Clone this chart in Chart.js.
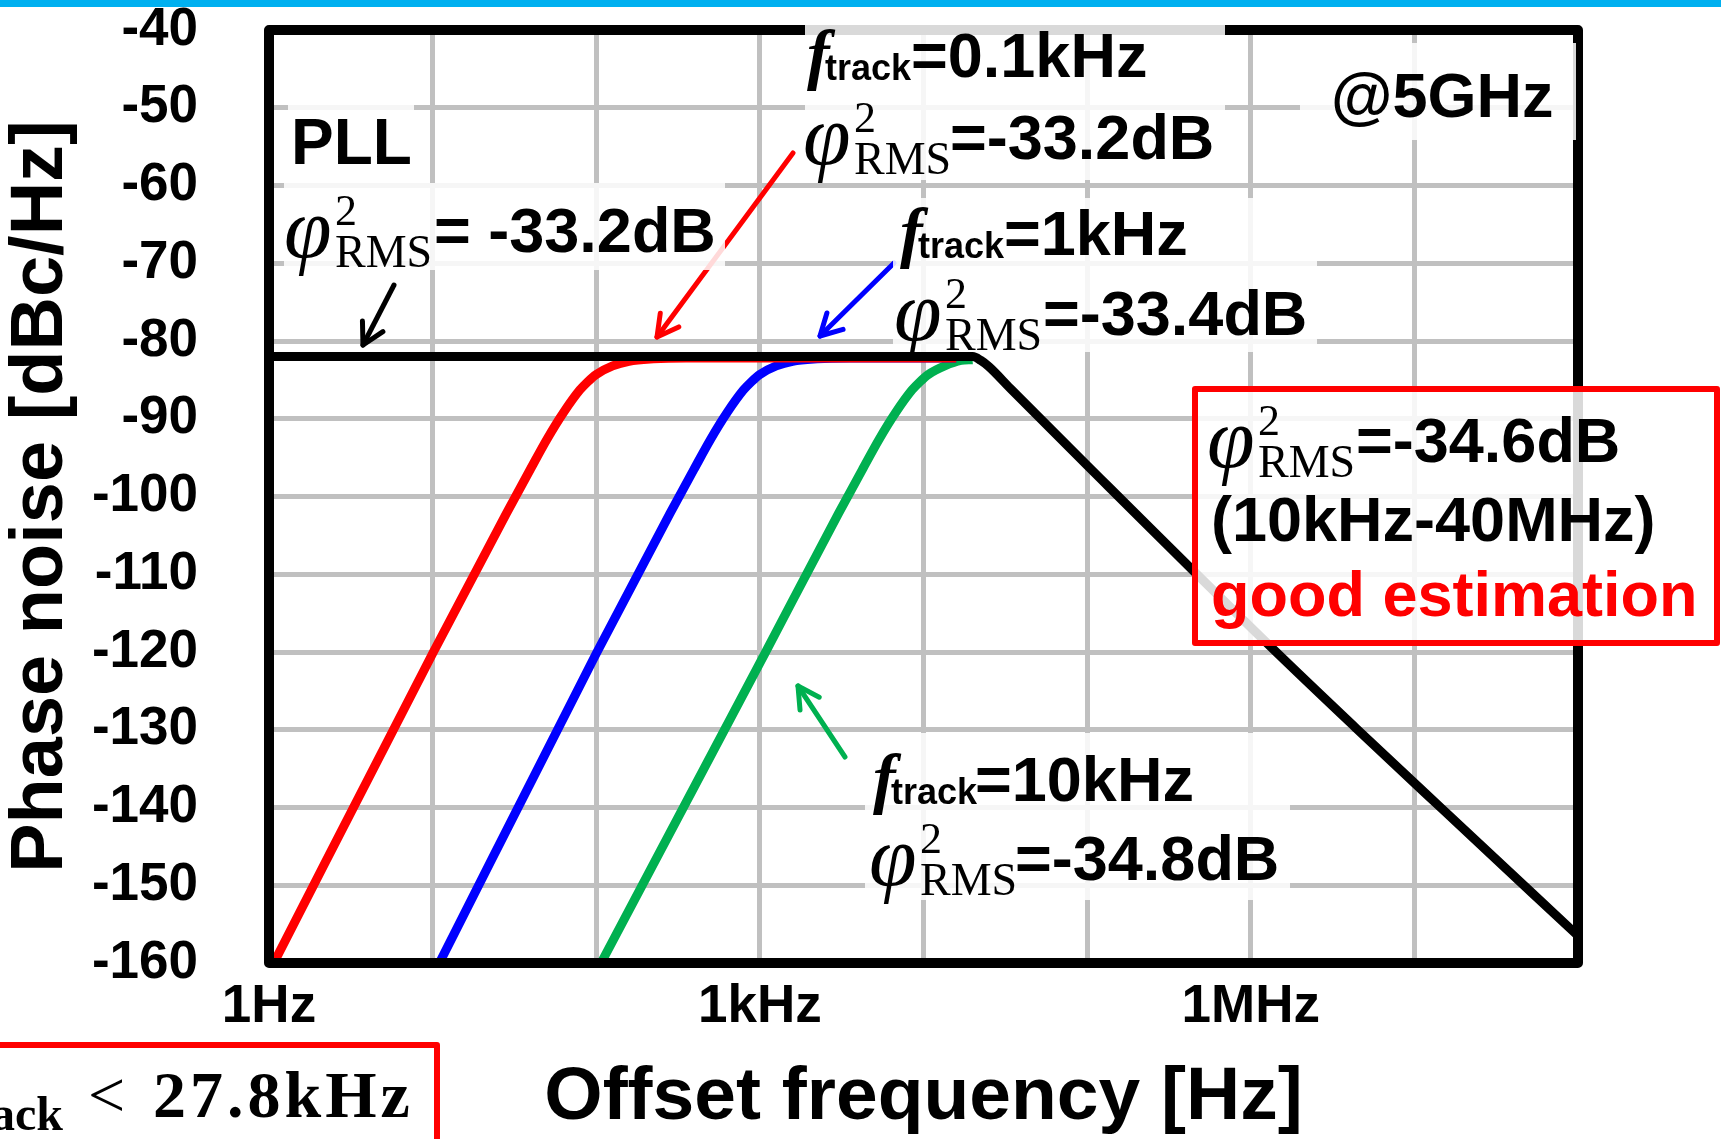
<!DOCTYPE html>
<html>
<head>
<meta charset="utf-8">
<script src="https://cdn.jsdelivr.net/npm/chart.js@4.4.1/dist/chart.umd.min.js"></script>
<style>
  html, body { margin: 0; padding: 0; background: #fff; overflow: hidden; }
  #wrap { position: relative; width: 1721px; height: 1139px; }
  #overlay { position: absolute; left: 0; top: 0; pointer-events: none; }
  .b { font-family: 'Liberation Sans', Arial, sans-serif; font-weight: 700; font-size: 63px; fill: #000; }
  .phi { font-family: 'Liberation Serif', 'DejaVu Serif', serif; font-style: italic; font-size: 86px; fill: #000; }
  .sup { font-family: 'Liberation Serif', serif; font-size: 44px; fill: #000; }
  .rms { font-family: 'Liberation Serif', serif; font-size: 46px; fill: #000; }
  .f { font-family: 'Liberation Serif', serif; font-style: italic; font-weight: 700; font-size: 68px; fill: #000; }
  .sub { font-family: 'Liberation Sans', Arial, sans-serif; font-weight: 700; font-size: 36px; fill: #000; }
  .box { fill: #fff; fill-opacity: 0.85; }
</style>
</head>
<body>
<div id="wrap">
  <canvas id="pnChart" width="1721" height="1139"></canvas>
  <svg id="overlay" width="1721" height="1139" xmlns="http://www.w3.org/2000/svg">
    <rect x="0" y="0" width="1721" height="7" fill="#00b0f0"/>
    <g id="arrows" fill="none" stroke-width="5" stroke-linecap="round" stroke-linejoin="round"></g>

    <!-- text boxes -->
    <rect class="box" x="288" y="100" width="126" height="70"/>
    <rect class="box" x="284" y="183" width="441" height="87"/>
    <rect class="box" x="805" y="22" width="420" height="158"/>
    <rect class="box" x="893" y="198" width="424" height="154"/>
    <rect class="box" x="1300" y="43" width="276" height="97"/>
    <rect class="box" x="865" y="733" width="425" height="167"/>
    <rect x="1195" y="389" width="522" height="254" fill="#fff" fill-opacity="0.85" stroke="#ff0000" stroke-width="6" stroke-linejoin="round"/>
    <rect x="-20" y="1045" width="457" height="120" fill="#fff" stroke="#ff0000" stroke-width="6" stroke-linejoin="round"/>

    <!-- PLL -->
    <text class="b" x="291" y="164" style="font-size:64px">PLL</text>
    <text class="phi" x="284" y="257">φ</text>
    <text class="sup" x="335" y="225">2</text>
    <text class="rms" x="335" y="267">RMS</text>
    <text class="b" x="434" y="252">= -33.2dB</text>

    <!-- f_track = 0.1kHz -->
    <text class="f" x="807" y="77">f</text>
    <text class="sub" x="825" y="80">track</text>
    <text class="b" x="911" y="77">=0.1kHz</text>
    <text class="phi" x="803" y="164">φ</text>
    <text class="sup" x="854" y="132">2</text>
    <text class="rms" x="854" y="174">RMS</text>
    <text class="b" x="950" y="159">=-33.2dB</text>

    <!-- f_track = 1kHz -->
    <text class="f" x="900" y="255">f</text>
    <text class="sub" x="918" y="258">track</text>
    <text class="b" x="1004" y="255">=1kHz</text>
    <text class="phi" x="894" y="340">φ</text>
    <text class="sup" x="945" y="308">2</text>
    <text class="rms" x="945" y="350">RMS</text>
    <text class="b" x="1043" y="335">=-33.4dB</text>

    <!-- carrier -->
    <text class="b" x="1331" y="117">@5GHz</text>

    <!-- integrated result box -->
    <text class="phi" x="1207" y="467">φ</text>
    <text class="sup" x="1258" y="435">2</text>
    <text class="rms" x="1258" y="477">RMS</text>
    <text class="b" x="1356" y="462">=-34.6dB</text>
    <text class="b" x="1211" y="541">(10kHz-40MHz)</text>
    <text class="b" x="1211" y="616" style="fill:#ff0000">good estimation</text>

    <!-- f_track = 10kHz -->
    <text class="f" x="873" y="801">f</text>
    <text class="sub" x="891" y="804">track</text>
    <text class="b" x="975" y="801">=10kHz</text>
    <text class="phi" x="869" y="885">φ</text>
    <text class="sup" x="920" y="853">2</text>
    <text class="rms" x="920" y="895">RMS</text>
    <text class="b" x="1015" y="880">=-34.8dB</text>

    <!-- bottom-left condition -->
    <text x="63" y="1130" text-anchor="end" style="font-family:'Liberation Serif',serif;font-weight:700;font-size:48px">track</text>
    <text x="88" y="1117" style="font-family:'Liberation Serif',serif;font-size:66px">&lt;</text>
    <text x="153" y="1117" style="font-family:'Liberation Serif',serif;font-weight:700;font-size:66px;letter-spacing:4px">27.8kHz</text>
  </svg>
</div>
<script>
// phase noise curves, offset frequency [Hz] / phase noise [dBc/Hz]
const pllFreq = [1, 10, 100, 1000, 10000, 17000, 20000, 22400, 25100, 33900, 100000, 1.32e6, 4.4e6, 1.48e7, 1e8];
const pllNoise = [-82, -82, -82, -82, -82, -82, -82, -82.5, -83.3, -86.1, -96.0, -119.3, -129.8, -140.2, -156.5];

const track01Freq = [1.07, 10, 28.2, 39.8, 50.1, 63.1, 79.4, 89.1, 100, 125.9, 158.5, 223.9, 354.8, 15850];
const track01Noise = [-160, -120.2, -102.2, -96.4, -92.6, -89.2, -86.3, -85.2, -84.3, -83.2, -82.6, -82.3, -82.2, -82.2];

const track1Freq = [11, 100, 281.8, 398.1, 501.2, 631, 794.3, 891.3, 1000, 1259, 1585, 2239, 3548, 15850];
const track1Noise = [-160, -120.2, -102.2, -96.4, -92.6, -89.2, -86.3, -85.2, -84.3, -83.2, -82.6, -82.3, -82.2, -82.2];

const track10Freq = [107, 1072, 3020, 4266, 5370, 6761, 8511, 9550, 10715, 13490, 16980, 19950];
const track10Noise = [-160, -120.2, -102.2, -96.4, -92.6, -89.2, -86.3, -85.2, -84.3, -83.2, -82.5, -82.4];

// axes
const xGridValues = [1, 10, 100, 1e3, 1e4, 1e5, 1e6, 1e7, 1e8];
const xTickValues = [1, 1e3, 1e6];
const xTickLabels = ['1Hz', '1kHz', '1MHz'];
const yMin = -160;
const yMax = -40;
const yStep = 10;

const FONT = "'Liberation Sans', Arial, sans-serif";

function toPoints(freqs, values) {
    return freqs.map((f, i) => ({ x: f, y: values[i] }));
}

function lineSet(label, freqs, values, color) {
    return {
        label: label,
        data: toPoints(freqs, values),
        borderColor: color,
        backgroundColor: color,
        borderWidth: 9,
        pointRadius: 0,
        fill: false,
        cubicInterpolationMode: 'monotone'
    };
}

// arrows of the annotations
function addArrow(x1, y1, x2, y2, color) {
    const g = document.getElementById('arrows');
    const ns = 'http://www.w3.org/2000/svg';
    const ang = Math.atan2(y1 - y2, x1 - x2);
    const head = 24, spread = 0.5;
    const line = document.createElementNS(ns, 'line');
    line.setAttribute('x1', x1); line.setAttribute('y1', y1);
    line.setAttribute('x2', x2); line.setAttribute('y2', y2);
    line.setAttribute('stroke', color);
    g.appendChild(line);
    const pts = [
        [x2 + head * Math.cos(ang + spread), y2 + head * Math.sin(ang + spread)],
        [x2, y2],
        [x2 + head * Math.cos(ang - spread), y2 + head * Math.sin(ang - spread)]
    ];
    const pl = document.createElementNS(ns, 'polyline');
    pl.setAttribute('points', pts.map(p => p.join(',')).join(' '));
    pl.setAttribute('stroke', color);
    g.appendChild(pl);
}
addArrow(394, 285, 363, 345, '#000000');
addArrow(793, 153, 657, 337, '#ff0000');
addArrow(894, 263, 820, 336, '#0000ff');
addArrow(845, 757, 798, 686, '#00b050');

const framePlugin = {
    id: 'frame',
    afterDatasetsDraw(chart) {
        const { ctx, chartArea: a } = chart;
        ctx.save();
        ctx.strokeStyle = '#000';
        ctx.lineWidth = 10;
        ctx.lineJoin = 'round';
        ctx.strokeRect(a.left, a.top, a.right - a.left, a.bottom - a.top);
        ctx.restore();
    }
};

const ctx = document.getElementById('pnChart');

new Chart(ctx, {
    type: 'line',
    data: {
        datasets: [
            lineSet('PLL', pllFreq, pllNoise, '#000000'),
            lineSet('ftrack=0.1kHz', track01Freq, track01Noise, '#ff0000'),
            lineSet('ftrack=1kHz', track1Freq, track1Noise, '#0000ff'),
            lineSet('ftrack=10kHz', track10Freq, track10Noise, '#00b050')
        ]
    },
    options: {
        responsive: false,
        animation: false,
        layout: { padding: { top: 30, right: 143, left: 0, bottom: 0 } },
        plugins: {
            legend: { display: false },
            tooltip: { enabled: false }
        },
        scales: {
            x: {
                type: 'logarithmic',
                min: 1,
                max: 1e8,
                afterBuildTicks: (scale) => {
                    scale.ticks = xGridValues.map(v => ({ value: v }));
                },
                afterFit: (scale) => {
                    scale.height = 176;
                    scale.paddingLeft = 0;
                    scale.paddingRight = 0;
                },
                grid: { color: '#c0c0c0', lineWidth: 5, drawTicks: false },
                border: { display: false },
                ticks: {
                    autoSkip: false,
                    maxRotation: 0,
                    minRotation: 0,
                    padding: 18,
                    color: '#000',
                    font: { family: FONT, size: 53, weight: 'bold', lineHeight: 1 },
                    callback: (value) => {
                        const i = xTickValues.indexOf(value);
                        return i >= 0 ? xTickLabels[i] : '';
                    }
                },
                title: {
                    display: true,
                    text: 'Offset frequency [Hz]',
                    color: '#000',
                    font: { family: FONT, size: 75, weight: 'bold', lineHeight: 1 },
                    padding: { top: 0, bottom: 3 }
                }
            },
            y: {
                min: yMin,
                max: yMax,
                afterFit: (scale) => {
                    scale.width = 269;
                    scale.paddingTop = 0;
                    scale.paddingBottom = 0;
                },
                grid: { color: '#c0c0c0', lineWidth: 5, drawTicks: false },
                border: { display: false },
                ticks: {
                    stepSize: yStep,
                    padding: 71,
                    color: '#000',
                    font: { family: FONT, size: 53, weight: 'bold', lineHeight: 1 },
                    callback: (value) => String(value)
                },
                title: {
                    display: true,
                    text: 'Phase noise [dBc/Hz]',
                    color: '#000',
                    font: { family: FONT, size: 74, weight: 'bold', lineHeight: 1 },
                    padding: { top: 5, bottom: 0 }
                }
            }
        }
    },
    plugins: [framePlugin]
});
</script>
</body>
</html>
